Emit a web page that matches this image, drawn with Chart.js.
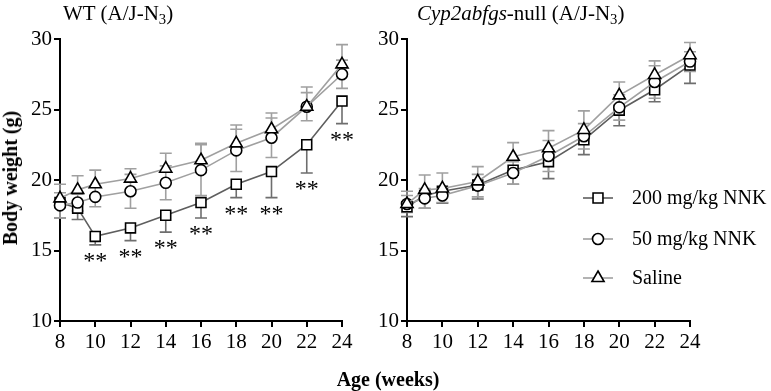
<!DOCTYPE html>
<html>
<head>
<meta charset="utf-8">
<script src="https://cdn.jsdelivr.net/npm/chart.js@4/dist/chart.umd.min.js"></script>
<style>
	body { margin: 0; background: #fff; width: 771px; height: 391px; position: relative; overflow: hidden; font-family: 'Liberation Serif', serif; }
	.panel { position: absolute; top: 0; height: 391px; }
	.txt { position: absolute; white-space: nowrap; color: #000; font-size: 20px; line-height: 1; }
	.ttl { font-size: 21px; }
	sub { font-size: 70%; vertical-align: -4px; line-height: 0; }
</style>
</head>
<body>
<div class="panel" style="left:0;width:360px"><canvas id="wtChart"></canvas></div>
<div class="panel" style="left:360px;width:411px"><canvas id="nullChart"></canvas></div>
<div class="txt ttl" id="wtTitle" style="left:63px;top:3px">WT (A/J-N<sub>3</sub>)</div>
<div class="txt ttl" id="nullTitle" style="left:417px;top:3px"><i>Cyp2abfgs</i>-null (A/J-N<sub>3</sub>)</div>
<div class="txt" style="left:10px;top:178px;font-weight:bold;transform:translate(-50%,-50%) rotate(-90deg)">Body weight (g)</div>
<div class="txt" style="left:388px;top:379px;font-weight:bold;transform:translate(-50%,-50%)">Age (weeks)</div>
<script>
const weeks = [8, 9, 10, 12, 14, 16, 18, 20, 22, 24];
const xTicks = [8, 10, 12, 14, 16, 18, 20, 22, 24];
const yTicks = [10, 15, 20, 25, 30];
const seriesNames = ['200 mg/kg NNK', '50 mg/kg NNK', 'Saline'];

// WT (A/J-N3)
const wt200 = [18.4, 18.0, 16.0, 16.6, 17.5, 18.4, 19.7, 20.6, 22.5, 25.6];
const wt200Err = [1.1, 0.8, 0.6, 0.9, 1.2, 1.1, 0.95, 1.85, 2.0, 1.6];
const wt50 = [18.2, 18.4, 18.8, 19.2, 19.8, 20.7, 22.1, 23.0, 25.2, 27.5];
const wt50Err = [0.9, 0.6, 0.7, 1.2, 1.2, 1.8, 1.5, 1.4, 1.0, 1.0];
const wtSaline = [18.7, 19.3, 19.7, 20.1, 20.8, 21.4, 22.6, 23.6, 25.2, 28.2];
const wtSalineErr = [1.0, 1.0, 1.0, 0.7, 1.1, 1.2, 1.3, 1.15, 1.4, 1.4];
const wtStars = ['', '', '**', '**', '**', '**', '**', '**', '**', '**'];

// Cyp2abfgs-null (A/J-N3)
const null200 = [18.1, 18.9, 19.2, 19.65, 20.7, 21.3, 22.85, 24.95, 26.4, 28.15];
const null200Err = [0.7, 0.9, 0.85, 1.0, 1.0, 1.2, 1.05, 1.1, 0.85, 1.3];
const null50 = [18.3, 18.7, 18.9, 19.6, 20.5, 21.7, 23.1, 25.15, 26.95, 28.4];
const null50Err = [0.6, 0.7, 0.5, 0.8, 0.8, 1.1, 0.9, 0.9, 1.15, 0.7];
const nullSaline = [18.3, 19.3, 19.4, 19.9, 21.65, 22.25, 23.55, 26.0, 27.45, 28.85];
const nullSalineErr = [0.9, 1.05, 1.1, 1.05, 1.0, 1.25, 1.35, 0.95, 1.0, 0.9];

const FONT = "'Liberation Serif', serif";
const DARK = '#5e5e5e';
const LIGHT = '#a0a0a0';

// per-series look: square (dark, bars down), circle (both), triangle (bars up)
const looks = [
	{ style: 'rect', radius: 7, line: DARK, err: '#6e6e6e', dir: 'down', order: 3 },
	{ style: 'circle', radius: 5.5, line: LIGHT, err: LIGHT, dir: 'both', order: 2 },
	{ style: 'triangle', radius: 7, line: LIGHT, err: LIGHT, dir: 'up', order: 1 }
];

function makeDatasets(values, errs) {
	return values.map(function(vals, k) {
		const lk = looks[k];
		return {
			label: seriesNames[k],
			data: weeks.map(function(w, i) { return { x: w, y: vals[i] }; }),
			err: errs[k],
			errColor: lk.err,
			errDir: lk.dir,
			borderColor: lk.line,
			borderWidth: 1.6,
			pointStyle: lk.style,
			pointRadius: lk.radius,
			pointBorderColor: '#000',
			pointBackgroundColor: '#fff',
			pointBorderWidth: 1.6,
			order: lk.order,
			clip: false,
			tension: 0
		};
	});
}

const errorBars = {
	id: 'errorBars',
	beforeDatasetsDraw(chart) {
		const ctx = chart.ctx;
		const xs = chart.scales.x, ys = chart.scales.y;
		const sorted = chart.data.datasets.slice().sort(function(a, b) { return b.order - a.order; });
		sorted.forEach(function(ds) {
			ctx.save();
			ctx.strokeStyle = ds.errColor;
			ctx.lineWidth = 1.6;
			ds.data.forEach(function(p, i) {
				const e = ds.err[i];
				const hi = ds.errDir === 'down' ? p.y : p.y + e;
				const lo = ds.errDir === 'up' ? p.y : p.y - e;
				const px = xs.getPixelForValue(p.x);
				const pHi = ys.getPixelForValue(hi), pLo = ys.getPixelForValue(lo);
				ctx.beginPath();
				ctx.moveTo(px, pHi);
				ctx.lineTo(px, pLo);
				if (ds.errDir !== 'down') { ctx.moveTo(px - 6, pHi); ctx.lineTo(px + 6, pHi); }
				if (ds.errDir !== 'up') { ctx.moveTo(px - 6, pLo); ctx.lineTo(px + 6, pLo); }
				ctx.stroke();
			});
			ctx.restore();
		});
	}
};

const stars = {
	id: 'stars',
	afterDatasetsDraw(chart, args, opts) {
		if (!opts.marks) {return;}
		const ctx = chart.ctx;
		const ds = chart.data.datasets[0];
		ctx.save();
		ctx.fillStyle = '#000';
		ctx.font = '24px ' + FONT;
		ctx.textAlign = 'center';
		ctx.textBaseline = 'alphabetic';
		opts.marks.forEach(function(m, i) {
			if (!m) {return;}
			const p = ds.data[i];
			const px = chart.scales.x.getPixelForValue(p.x);
			const py = chart.scales.y.getPixelForValue(p.y - ds.err[i]);
			ctx.fillText(m, px, py + 23);
		});
		ctx.restore();
	}
};

function drawMarker(ctx, style, x, y, r) {
	ctx.beginPath();
	if (style === 'rect') {
		const s = Math.SQRT1_2 * r;
		ctx.rect(x - s, y - s, 2 * s, 2 * s);
	} else if (style === 'circle') {
		ctx.arc(x, y, r, 0, Math.PI * 2);
	} else {
		const h = r * 1.5, w = r * Math.sqrt(3) / 2;
		ctx.moveTo(x, y - r);
		ctx.lineTo(x + w, y + h - r);
		ctx.lineTo(x - w, y + h - r);
		ctx.closePath();
	}
	ctx.fill();
	ctx.stroke();
}

const legendBox = {
	id: 'legendBox',
	afterDraw(chart, args, opts) {
		if (!opts.show) {return;}
		const ctx = chart.ctx;
		const rows = [198, 239, 278];
		ctx.save();
		looks.forEach(function(lk, k) {
			const y = rows[k];
			ctx.strokeStyle = lk.line;
			ctx.lineWidth = 1.6;
			ctx.beginPath();
			ctx.moveTo(223, y);
			ctx.lineTo(253, y);
			ctx.stroke();
			ctx.strokeStyle = '#000';
			ctx.fillStyle = '#fff';
			drawMarker(ctx, lk.style, 238, y, lk.radius);
			ctx.fillStyle = '#000';
			ctx.font = '20px ' + FONT;
			ctx.textAlign = 'left';
			ctx.textBaseline = 'middle';
			ctx.fillText(seriesNames[k], 272, y + 1);
		});
		ctx.restore();
	}
};

function buildChart(id, datasets, yAxisWidth, padRight, starMarks, showLegend, width) {
	const canvas = document.getElementById(id);
	canvas.width = width;
	canvas.height = 391;
	return new Chart(canvas.getContext('2d'), {
		type: 'line',
		data: { datasets: datasets },
		options: {
			responsive: false,
			animation: false,
			events: [],
			layout: { padding: { top: 39, right: padRight, bottom: 40, left: 0 } },
			scales: {
				x: {
					type: 'linear',
					min: 8,
					max: 24,
					afterBuildTicks: function(s) { s.ticks = xTicks.map(function(v) { return { value: v }; }); },
					afterFit: function(s) { s.height = 30; },
					border: { color: '#000', width: 2 },
					grid: { drawOnChartArea: false, tickLength: 6, tickColor: '#000', lineWidth: 2 },
					ticks: { color: '#000', padding: 3, font: { family: FONT, size: 21 } }
				},
				y: {
					min: 10,
					max: 30,
					afterBuildTicks: function(s) { s.ticks = yTicks.map(function(v) { return { value: v }; }); },
					afterFit: function(s) { s.width = yAxisWidth; },
					border: { color: '#000', width: 2 },
					grid: { drawOnChartArea: false, tickLength: 6, tickColor: '#000', lineWidth: 2 },
					ticks: { color: '#000', padding: 2, font: { family: FONT, size: 21 } }
				}
			},
			plugins: {
				legend: { display: false },
				tooltip: { enabled: false },
				stars: { marks: starMarks },
				legendBox: { show: showLegend }
			}
		},
		plugins: [errorBars, stars, legendBox]
	});
}

buildChart('wtChart',
	makeDatasets([wt200, wt50, wtSaline], [wt200Err, wt50Err, wtSalineErr]),
	60, 18, wtStars, false, 360);
buildChart('nullChart',
	makeDatasets([null200, null50, nullSaline], [null200Err, null50Err, nullSalineErr]),
	47, 81, null, true, 411);
</script>
</body>
</html>
